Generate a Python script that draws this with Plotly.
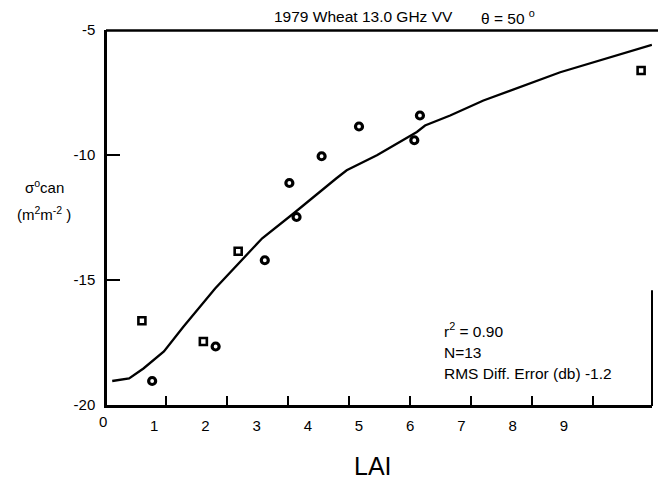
import plotly.graph_objects as go

# ---------------- data ----------------
lai_model = [0.18, 0.51, 0.79, 1.19, 1.57, 2.19, 3.11, 3.72, 4.56, 4.76,
             5.35, 6.13, 6.29, 6.78, 7.43, 7.95, 8.93, 10.72]
sigma_model = [-19.04, -18.94, -18.54, -17.86, -16.87, -15.34, -13.33, -12.34,
               -10.93, -10.61, -10.01, -9.08, -8.82, -8.42, -7.82, -7.42, -6.69, -5.59]

lai_obs_sq = [0.76, 1.96, 2.64, 10.51]
sigma_obs_sq = [-16.63, -17.46, -13.85, -6.62]

lai_obs_pt = [0.96, 2.20, 3.16, 3.64, 3.78, 4.27, 5.00, 6.08, 6.19]
sigma_obs_pt = [-19.04, -17.66, -14.21, -11.12, -12.48, -10.05, -8.86, -9.41, -8.42]

x_tick_vals = [0, 1, 2, 3, 4, 5, 6, 7, 8, 9]
x_tick_text = ["0", "1", "2", "3", "4", "5", "6", "7", "8", "9"]
tick_mark_index = [1, 2, 3, 4, 5, 6, 7, 8]
y_tick_vals = [-5, -10, -15, -20]
y_tick_text = ["-5", "-10", "-15", "-20"]

title_left = "1979 Wheat 13.0 GHz VV"
title_right = "θ = 50 <sup>o</sup>"
y_label_1 = "σ<sup>o</sup>can"
y_label_2 = "(m<sup>2</sup>m<sup>-2</sup> )"
x_label = "LAI"
stats = ["r<sup>2</sup> = 0.90", "N=13", "RMS Diff. Error (db) -1.2"]

# ---------------- layout geometry (pixels) ----------------
W, H = 658, 480
PL, PR, PT, PB = 107, 652, 29.5, 405
FONT = "Liberation Sans, Arial, sans-serif"
ZERO_PX = 103              # where the "0" label of the scan sits
PX_PER_LABEL_UNIT = 51.2
TICK_ORIGIN_PX, TICK_STEP_PX = 105, 61.0
Y_RANGE = [-20, -5]


def fx(px):
    return (px - PL) / (PR - PL)


def fy(py):
    return (PB - py) / (PB - PT)


x_range = [(PL - ZERO_PX) / PX_PER_LABEL_UNIT, (PR - ZERO_PX) / PX_PER_LABEL_UNIT]
# tick marks of the scanned figure are on a different spacing than its labels
tick_mark_vals = [(TICK_ORIGIN_PX + k * TICK_STEP_PX - ZERO_PX) / PX_PER_LABEL_UNIT
                  for k in tick_mark_index]

fig = go.Figure()

fig.add_trace(go.Scatter(
    x=lai_model, y=sigma_model, mode="lines",
    line=dict(color="black", width=2.3), showlegend=False, hoverinfo="skip"))

fig.add_trace(go.Scatter(
    x=lai_obs_sq, y=sigma_obs_sq, mode="markers",
    marker=dict(symbol="square-open", size=7, color="black",
                line=dict(color="black", width=2.6)),
    showlegend=False))

fig.add_trace(go.Scatter(
    x=lai_obs_pt, y=sigma_obs_pt, mode="markers",
    marker=dict(symbol="circle-open", size=7, color="black",
                line=dict(color="black", width=3.2)),
    showlegend=False))

shapes = [
    dict(type="line", xref="paper", yref="paper", x0=fx(106), x1=fx(658),
         y0=fy(30), y1=fy(30), line=dict(color="black", width=2.5)),
    dict(type="line", xref="paper", yref="paper", x0=fx(652), x1=fx(652),
         y0=fy(290), y1=fy(406), line=dict(color="black", width=2)),
]
# x tick marks (crossing the bottom axis, mostly inside)
for v in tick_mark_vals:
    shapes.append(dict(type="line", xref="x", yref="paper", x0=v, x1=v,
                       y0=fy(408), y1=fy(396), layer="above",
                       line=dict(color="black", width=2)))
# y tick marks (inside, from the left axis)
for v in y_tick_vals[1:3]:
    shapes.append(dict(type="line", xref="paper", yref="y", x0=fx(107), x1=fx(120),
                       y0=v, y1=v, layer="above",
                       line=dict(color="black", width=2)))

fig.update_layout(
    width=W, height=H,
    margin=dict(l=PL, r=W - PR, t=PT, b=H - PB, pad=0),
    paper_bgcolor="white", plot_bgcolor="white",
    font=dict(family=FONT, color="black", size=15),
    xaxis=dict(range=x_range, tickmode="array",
               tickvals=x_tick_vals[1:], ticktext=x_tick_text[1:],
               ticks="", showline=True, linecolor="black", linewidth=2.5,
               showgrid=False, zeroline=False, tickfont=dict(size=15),
               ticklabelstandoff=5),
    yaxis=dict(range=Y_RANGE, tickmode="array", tickvals=y_tick_vals,
               ticktext=y_tick_text, ticks="", showline=True, linecolor="black",
               linewidth=2.5, showgrid=False, zeroline=False, tickfont=dict(size=15),
               ticklabelstandoff=6),
    shapes=shapes,
)

ann = []
ann.append(dict(text=x_tick_text[0], x=fx(ZERO_PX), y=fy(422), xanchor="center",
                yanchor="middle", font=dict(size=15)))
ann.append(dict(text=title_left, x=fx(272), y=fy(16), xanchor="left", yanchor="middle",
                font=dict(size=15.5)))
ann.append(dict(text=title_right, x=fx(479), y=fy(16), xanchor="left", yanchor="middle",
                font=dict(size=15.5)))
ann.append(dict(text=y_label_1, x=fx(44), y=fy(186), xanchor="center", yanchor="middle",
                font=dict(size=15)))
ann.append(dict(text=y_label_2, x=fx(44), y=fy(213), xanchor="center", yanchor="middle",
                font=dict(size=15)))
ann.append(dict(text=x_label, x=fx(373), y=fy(466), xanchor="center", yanchor="middle",
                font=dict(size=25)))
for s, yy in zip(stats, [330, 352, 373]):
    ann.append(dict(text=s, x=fx(442), y=fy(yy), xanchor="left", yanchor="middle",
                    font=dict(size=15.5)))
for a in ann:
    a.update(xref="paper", yref="paper", showarrow=False)
fig.update_layout(annotations=ann)

fig.write_html("out.html")
